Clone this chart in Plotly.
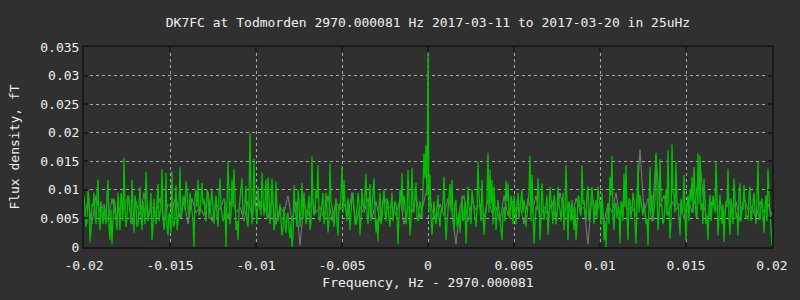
import numpy as np
import plotly.graph_objects as go

# Flux density values in units of 1e-4 fT.
# green_a: main spectrum at even bins, green_b: the bins in between
green_a_e4 = [
    90, 35, 100, 8, 75, 95, 40, 118, 30, 65,
    70, 40, 117, 12, 5, 85, 45, 95, 30, 80,
    156, 35, 90, 50, 118, 25, 75, 40, 105, 30,
    60, 132, 45, 70, 12, 85, 40, 110, 55, 136,
    30, 130, 20, 50, 133, 35, 108, 45, 140, 60,
    90, 115, 70, 95, 55, 0, 100, 118, 60, 112,
    85, 45, 95, 70, 100, 40, 90, 35, 120, 60,
    50, 0, 150, 40, 118, 136, 30, 12, 85, 120,
    60, 107, 35, 199, 40, 154, 50, 105, 80, 130,
    55, 118, 122, 40, 120, 30, 115, 45, 75, 20,
    70, 25, 60, 15, 0, 108, 50, 100, 35, 112,
    95, 40, 80, 30, 159, 55, 100, 144, 45, 80,
    40, 95, 25, 146, 70, 35, 85, 20, 65, 142,
    117, 55, 85, 30, 90, 60, 40, 95, 20, 100,
    65, 128, 40, 110, 70, 120, 25, 10, 95, 50,
    100, 45, 80, 35, 95, 60, 75, 5, 100, 129,
    90, 40, 135, 20, 138, 60, 112, 45, 80, 50,
    164, 178, 340, 126, 21, 80, 40, 91, 35, 60,
    123, 12, 70, 110, 117, 30, 82, 45, 25, 90,
    55, 6, 106, 50, 100, 60, 35, 149, 70, 117,
    21, 60, 165, 135, 117, 106, 30, 82, 45, 12,
    70, 116, 111, 50, 77, 91, 40, 95, 77, 100,
    82, 35, 60, 160, 126, 6, 70, 120, 12, 111,
    47, 80, 21, 106, 60, 91, 40, 106, 65, 82,
    30, 143, 12, 70, 82, 30, 12, 90, 60, 143,
    82, 45, 106, 60, 106, 40, 82, 106, 77, 95,
    12, 0, 77, 123, 159, 30, 77, 70, 6, 75,
    128, 143, 12, 82, 65, 82, 6, 146, 91, 60,
    77, 40, 3, 140, 91, 60, 165, 30, 154, 50,
    47, 100, 170, 15, 180, 91, 149, 77, 20, 60,
    126, 12, 91, 100, 123, 140, 55, 164, 160, 77,
    120, 40, 12, 91, 70, 75, 150, 20, 91, 40,
    9, 80, 137, 21, 60, 120, 50, 20, 111, 70,
    108, 50, 47, 106, 60, 95, 40, 149, 47, 85,
    25, 90, 137, 65, 3,
]

green_b_e4 = [
    60, 45, 85, 30, 70, 55, 95, 50, 80, 40,
    55, 90, 35, 65, 50, 75, 30, 60, 95, 45,
    70, 50, 85, 40, 65, 90, 35, 70, 55, 80,
    40, 75, 60, 95, 35, 55, 80, 45, 70, 50,
    45, 35, 60, 25, 40, 55, 30, 70, 50, 85,
    65, 100, 50, 80, 45, 90, 70, 55, 95, 75,
    60, 100, 50, 85, 65, 75, 55, 95, 70, 45,
    80, 60, 95, 55, 70, 85, 45, 65, 100, 55,
    80, 45, 75, 95, 60, 85, 40, 70, 55, 95,
    75, 50, 90, 60, 85, 40, 70, 55, 45, 35,
    40, 55, 30, 45, 20, 70, 35, 80, 60, 50,
    70, 55, 90, 45, 75, 60, 85, 50, 65, 95,
    55, 70, 45, 80, 50, 65, 40, 75, 90, 60,
    80, 45, 70, 55, 95, 40, 65, 80, 50, 75,
    90, 55, 75, 45, 85, 60, 50, 70, 40, 80,
    60, 85, 50, 70, 45, 80, 55, 40, 75, 60,
    70, 55, 85, 45, 75, 95, 50, 65, 70, 100,
    120, 90, 60, 55, 45, 55, 70, 50, 65, 80,
    55, 40, 85, 65, 50, 75, 35, 60, 70, 45,
    80, 50, 70, 40, 85, 55, 65, 90, 45, 75,
    50, 85, 60, 75, 40, 70, 55, 65, 35, 60,
    45, 80, 55, 90, 40, 65, 75, 50, 85, 60,
    70, 55, 95, 45, 80, 40, 65, 85, 50, 75,
    60, 90, 50, 70, 40, 80, 55, 75, 45, 95,
    65, 50, 80, 45, 60, 70, 40, 85, 55, 75,
    60, 95, 45, 80, 55, 70, 50, 85, 40, 65,
    45, 60, 40, 90, 55, 75, 50, 65, 80, 45,
    70, 55, 85, 50, 95, 40, 75, 60, 80, 55,
    65, 50, 75, 60, 45, 85, 70, 55, 90, 40,
    80, 55, 70, 45, 95, 60, 75, 50, 85, 65,
    55, 70, 45, 80, 60, 95, 50, 75, 65, 40,
    85, 55, 70, 45, 90, 60, 80, 50, 65, 75,
    55, 70, 50, 85, 40, 75, 60, 95, 45, 65,
    80, 55, 90, 45, 70, 60, 85, 50, 75, 55,
    70, 45, 90, 40,
]

# Secondary (gray) spectrum, mostly hidden behind the green one
gray_e4 = [
    55, 80, 40, 90, 60, 75, 45, 85, 50, 70,
    65, 90, 40, 80, 55, 95, 50, 70, 60, 85,
    45, 75, 65, 90, 50, 80, 40, 85, 60, 70,
    55, 95, 45, 75, 65, 85, 50, 90, 60, 70,
    45, 80, 55, 90, 65, 75, 50, 85, 40, 70,
    60, 90, 45, 80, 3, 75, 55, 85, 60, 70,
    50, 90, 45, 80, 65, 75, 55, 95, 40, 70,
    60, 85, 50, 80, 45, 90, 65, 75, 55, 85,
    40, 70, 60, 90, 50, 80, 110, 65, 45, 75,
    55, 85, 60, 5, 70, 90, 45, 80, 65, 75,
    50, 85, 60, 70, 45, 90, 55, 80, 65, 75,
    40, 85, 60, 90, 50, 70, 55, 80, 45, 95,
    60, 75, 50, 85, 65, 70, 5, 90, 55, 80,
    45, 75, 60, 95, 50, 80, 65, 70, 55, 170,
    60, 85, 45, 160, 70, 90, 55, 80, 65, 75,
    50, 85, 60, 90, 150, 70, 45, 80, 65, 75,
    55, 90, 60, 80, 45, 85, 65, 70, 50, 80,
    60, 75, 55,
]

freq_min, freq_max = -0.02, 0.02
x_tickvals = [-0.02, -0.015, -0.01, -0.005, 0, 0.005, 0.01, 0.015, 0.02]
x_ticktext = ["-0.02", "-0.015", "-0.01", "-0.005", "0", "0.005", "0.01", "0.015", "0.02"]
y_tickvals = [0, 0.005, 0.01, 0.015, 0.02, 0.025, 0.03, 0.035]
y_ticktext = ["0", "0.005", "0.01", "0.015", "0.02", "0.025", "0.03", "0.035"]

# interleave the two green lists into one spectrum
green_list = []
for k, a in enumerate(green_a_e4):
    green_list.append(a)
    if k < len(green_b_e4):
        green_list.append(green_b_e4[k])
green = np.array(green_list) * 1e-4
gray = np.array(gray_e4) * 1e-4
f_green = np.linspace(freq_min, freq_max, len(green))
f_gray = np.linspace(freq_min, freq_max, len(gray))

BG = "#303030"
FRAME = "#1a1a1a"
TXT = "#f0f0f0"
FONT = "DejaVu Sans Mono"

fig = go.Figure()
fig.add_trace(go.Scatter(x=f_gray, y=gray, mode="lines",
                         line=dict(color="#7c7c7c", width=1), showlegend=False))
fig.add_trace(go.Scatter(x=f_green, y=green, mode="lines",
                         line=dict(color="#00c000", width=1.3), showlegend=False))

axis_common = dict(
    showline=True, linecolor=FRAME, linewidth=2, mirror="allticks",
    ticks="inside", ticklen=4, tickcolor=FRAME, tickwidth=2,
    showgrid=True, gridcolor="#a8a8a8", gridwidth=1, griddash="3px,3px",
    zeroline=False, tickfont=dict(family=FONT, size=13, color=TXT),
)

fig.update_xaxes(range=[freq_min, freq_max], tickvals=x_tickvals, ticktext=x_ticktext,
                 ticklabelstandoff=5,
                 title=dict(text="Frequency, Hz - 2970.000081", standoff=6,
                            font=dict(family=FONT, size=13, color=TXT)),
                 **axis_common)
fig.update_yaxes(range=[0, 0.035], tickvals=y_tickvals, ticktext=y_ticktext,
                 title=dict(text="Flux density, fT", standoff=18,
                            font=dict(family=FONT, size=13, color=TXT)),
                 **axis_common)

fig.update_layout(
    width=800, height=300,
    margin=dict(l=84, r=26, t=47, b=53),
    paper_bgcolor=BG, plot_bgcolor=BG,
    title=dict(text="DK7FC at Todmorden 2970.000081 Hz 2017-03-11 to 2017-03-20 in 25uHz",
               x=0.535, xanchor="center", y=0.925, yanchor="middle",
               font=dict(family=FONT, size=13, color=TXT)),
    showlegend=False,
)

fig.write_html("out.html")
